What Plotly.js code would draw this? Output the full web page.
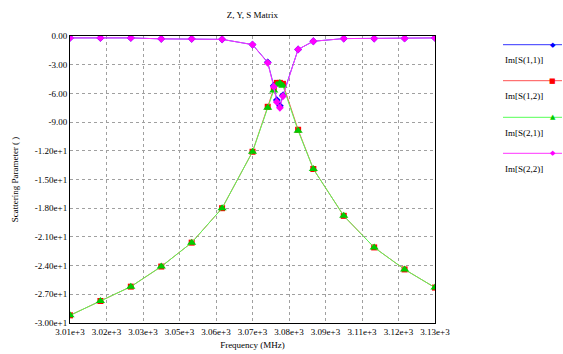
<!DOCTYPE html>
<html>
<head>
<meta charset="utf-8">
<script src="https://cdn.plot.ly/plotly-3.0.1.min.js"></script>
<style>html,body{margin:0;padding:0;background:#fff;}#chart{width:563px;height:354px;}</style>
</head>
<body>
<div id="chart"></div>
<script>
// Frequency sweep (MHz)
var freq = [3010,3020,3030,3040,3050,3060,3070,3075,3077,3078,3079,3080,3085,3090,3100,3110,3120,3130];
// Series values
var s11 = [-0.2,-0.2,-0.2,-0.3,-0.3,-0.35,-0.9,-2.75,-5.2,-6.7,-7.3,-6.2,-1.4,-0.55,-0.27,-0.27,-0.25,-0.2];
var s12 = [-29.2,-27.7,-26.2,-24.1,-21.6,-18.0,-12.1,-7.4,-5.5,-4.9,-4.9,-5.0,-9.8,-13.9,-18.8,-22.1,-24.4,-26.3];
var s21 = [-29.2,-27.7,-26.2,-24.1,-21.6,-18.0,-12.1,-7.5,-5.7,-5.1,-4.9,-5.2,-9.9,-13.9,-18.8,-22.1,-24.4,-26.3];
var s22 = [-0.2,-0.2,-0.2,-0.3,-0.3,-0.35,-0.9,-2.8,-5.3,-6.9,-7.5,-6.3,-1.4,-0.55,-0.27,-0.27,-0.25,-0.2];
var seriesNames = ["Im[S(1,1)]","Im[S(1,2)]","Im[S(2,1)]","Im[S(2,2)]"];
// Tick labels
var xTickVals = [3010,3022,3034,3046,3058,3070,3082,3094,3106,3118,3130];
var xTickText = ["3.01e+3","3.02e+3","3.03e+3","3.05e+3","3.06e+3","3.07e+3","3.08e+3","3.09e+3","3.11e+3","3.12e+3","3.13e+3"];
var yTickVals = [0,-3,-6,-9,-12,-15,-18,-21,-24,-27,-30];
var yTickText = ["0.00","-3.00","-6.00","-9.00","-1.20e+1","-1.50e+1","-1.80e+1","-2.10e+1","-2.40e+1","-2.70e+1","-3.00e+1"];

var serif = "Liberation Serif, Times New Roman, serif";
var lineColors = ["#3333ff","#ff5050","#55ff55","#ff33ff"];
var markerColors = ["#0000ff","#ff0000","#00cc00","#ff00ff"];
var symbols = ["diamond","square","triangle-up","diamond"];
var glyphs = ["\u25C6","\u25A0","\u25B2","\u25C6"];
var ys = [s11, s12, s21, s22];

var traces = ys.map(function(y, i){
  return {
    x: freq, y: y, type: "scatter", mode: "lines+markers", name: seriesNames[i],
    line: {color: lineColors[i], width: 1},
    marker: {color: markerColors[i], symbol: symbols[i], size: i===2 ? 8 : 6},
    showlegend: false
  };
});

// Custom legend (line above label), positioned in paper coords
var L = 70, R = 128, T = 36, B = 31, W = 563, H = 354;
var pw = W - L - R, ph = H - T - B;
function px(x){ return (x - L) / pw; }
function py(y){ return (H - B - y) / ph; }
var shapes = [], annotations = [];
var lineY = [44.7, 80.7, 117.3, 153.3];
var textY = [59.5, 96, 132.5, 168.5];
for (var i = 0; i < 4; i++) {
  shapes.push({type:"line", xref:"paper", yref:"paper", x0:px(503), x1:px(562), y0:py(lineY[i]), y1:py(lineY[i]),
    line:{color:lineColors[i], width:1}});
  annotations.push({xref:"paper", yref:"paper", x:px(552.5), y:py(lineY[i]), text:glyphs[i], showarrow:false,
    font:{family:"DejaVu Sans", size: 7, color: markerColors[i]}, xanchor:"center", yanchor:"middle"});
  annotations.push({xref:"paper", yref:"paper", x:px(503), y:py(textY[i]), text:seriesNames[i], showarrow:false,
    font:{family:serif, size: 9, color:"#000"}, xanchor:"left", yanchor:"middle"});
}

var layout = {
  width: W, height: H,
  margin: {l: L, r: R, t: T, b: B, pad: 0},
  paper_bgcolor: "#fff", plot_bgcolor: "#fff",
  font: {family: serif, size: 9, color: "#000"},
  title: {text: "Z, Y, S Matrix", font: {family: serif, size: 9, color: "#000"},
    xref: "paper", x: 0.5, xanchor: "center", y: 1 - 15/H, yanchor: "middle"},
  xaxis: {
    range: [3010, 3130], tickmode: "array", tickvals: xTickVals, ticktext: xTickText,
    showline: true, linecolor: "#000", linewidth: 1, mirror: true,
    showgrid: true, gridcolor: "#a0a0a0", griddash: "3px,3px", gridwidth: 1,
    zeroline: false, ticks: "", tickfont: {family: serif, size: 9, color: "#000"},
    title: {text: "Frequency (MHz)", font: {family: serif, size: 9, color: "#000"}, standoff: 5},
    automargin: false
  },
  yaxis: {
    range: [-30, 0], tickmode: "array", tickvals: yTickVals, ticktext: yTickText,
    showline: true, linecolor: "#000", linewidth: 1, mirror: true,
    showgrid: true, gridcolor: "#a0a0a0", griddash: "3px,3px", gridwidth: 1,
    zeroline: false, ticks: "", tickfont: {family: serif, size: 9, color: "#000"},
    title: {text: "Scattering Parameter ( )", font: {family: serif, size: 9, color: "#000"}, standoff: 14},
    automargin: false
  },
  shapes: shapes,
  annotations: annotations,
  showlegend: false
};

Plotly.newPlot("chart", traces, layout, {displayModeBar: false, staticPlot: true});
</script>
</body>
</html>
